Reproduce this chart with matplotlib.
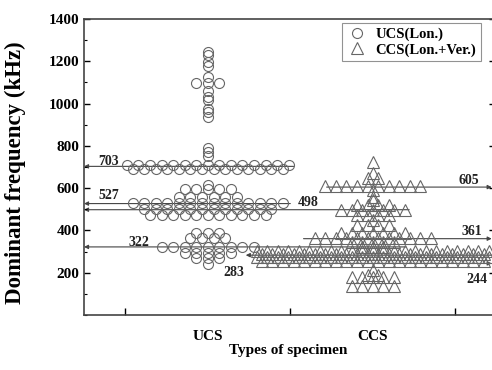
import matplotlib
matplotlib.use("Agg")
import matplotlib.pyplot as plt
from matplotlib.ticker import MultipleLocator
import numpy as np

# dominant frequency levels (kHz) and how many specimens sit on each level
ucs_levels = [1245, 1230, 1195, 1180, 1125, 1097, 1060, 1030, 1015, 975, 960, 935,
              790, 770, 750, 708, 692, 615, 595, 560, 530, 500, 472,
              388, 364, 322, 295, 268, 240]
ucs_counts = [1, 1, 1, 1, 1, 3, 1, 1, 1, 1, 1, 1,
              1, 1, 1, 15, 14, 1, 5, 6, 14, 12, 11,
              3, 4, 9, 5, 3, 1]

ccs_levels = [724, 672, 648, 610, 591, 558, 544, 520, 497, 473, 449, 426,
              388, 365, 345, 322, 305, 288, 272, 256, 213, 190, 180, 135]
ccs_counts = [1, 1, 2, 10, 1, 1, 1, 4, 7, 4, 1, 4,
              7, 12, 5, 3, 23, 22, 23, 22, 1, 2, 5, 5]

# reference lines
left_marks = [703, 527, 498, 322]
right_marks = [605, 361, 244]
mid_mark = 283

categories = ["UCS", "CCS"]


def swarm(center, levels, counts, step):
    xs, ys = [], []
    for v, n in zip(levels, counts):
        for i in range(n):
            xs.append(center + (i - (n - 1) / 2) * step)
            ys.append(v)
    return np.array(xs), np.array(ys)


fig = plt.figure(figsize=(4.92, 3.70), dpi=100)
ax = fig.add_axes([84 / 492, 55 / 370, 411 / 492, 296 / 370])

serif = "Liberation Serif"
mark_col = "#666666"

xu, yu = swarm(1, ucs_levels, ucs_counts, 0.070)
xc, yc = swarm(2, ccs_levels, ccs_counts, 0.064)

# reference lines (drawn under the markers)
arrow = dict(arrowstyle="-|>", color="#444444", lw=0.8, mutation_scale=6,
             shrinkA=0, shrinkB=0)
line_ends = {703: 1.52, 527: 1.50, 498: 2.22, 322: 2.20}
for v in left_marks:
    ax.annotate("", xy=(0.25, v), xytext=(line_ends[v], v), arrowprops=arrow, zorder=1)
ax.annotate("", xy=(1.23, mid_mark), xytext=(2.72, mid_mark), arrowprops=arrow, zorder=1)
right_starts = {605: 1.72, 361: 1.58, 244: 1.28}
for v in right_marks:
    ax.annotate("", xy=(2.72, v), xytext=(right_starts[v], v), arrowprops=arrow, zorder=1)

ax.plot(xu, yu, "o", ms=7.2, mfc="none", mec=mark_col, mew=0.8, zorder=3,
        label="UCS(Lon.)")
ax.plot(xc, yc, "^", ms=8, mfc="none", mec=mark_col, mew=0.8, zorder=3,
        label="CCS(Lon.+Ver.)")

# value labels
lab = dict(fontfamily=serif, fontweight="bold", fontsize=10, color="#222222")
ax.text(0.40, 728, "703", ha="center", va="center", **lab)
ax.text(0.40, 567, "527", ha="center", va="center", **lab)
ax.text(1.61, 530, "498", ha="center", va="center", **lab)
ax.text(0.58, 345, "322", ha="center", va="center", **lab)
ax.text(1.16, 203, "283", ha="center", va="center", **lab)
ax.text(2.58, 638, "605", ha="center", va="center", **lab)
ax.text(2.60, 393, "361", ha="center", va="center", **lab)
ax.text(2.63, 166, "244", ha="center", va="center", **lab)

ax.set_xlim(0.25, 2.74)
ax.set_ylim(0, 1400)
ax.yaxis.set_minor_locator(MultipleLocator(100))
ax.set_yticks([200, 400, 600, 800, 1000, 1200, 1400])
ax.set_xticks([0.5, 1.5, 2.5])
ax.set_xticklabels([])
ax.set_xticks([1, 2], minor=True)
ax.set_xticklabels(categories, minor=True)

ax.tick_params(axis="y", which="both", direction="in", right=True)
ax.tick_params(axis="y", which="major", length=4, width=1)
ax.tick_params(axis="y", which="minor", length=2.5, width=0.8)
ax.tick_params(axis="x", which="major", direction="in", length=5, width=1)
ax.tick_params(axis="x", which="minor", length=0, pad=11)

for t in ax.get_yticklabels():
    t.set_fontfamily(serif)
    t.set_fontweight("bold")
    t.set_fontsize(11)
for t in ax.get_xticklabels(minor=True):
    t.set_fontfamily(serif)
    t.set_fontweight("bold")
    t.set_fontsize(11)

for s in ax.spines.values():
    s.set_linewidth(1.2)
    s.set_color("#444444")

ax.set_ylabel("Dominant frequency (kHz)", fontfamily=serif, fontweight="bold",
              fontsize=16.5)
ax.yaxis.set_label_coords(-(84 - 26) / 411, (315 - 173) / 296)
ax.set_xlabel("Types of specimen", fontfamily=serif, fontweight="bold",
              fontsize=11)
ax.xaxis.set_label_coords((288 - 84) / 411, -(344 - 315) / 296)

leg = ax.legend(loc="upper left", bbox_to_anchor=((342 - 84) / 411, 1 - 4 / 296),
                borderaxespad=0,
                prop=dict(family=serif, weight="bold", size=10.5),
                frameon=True, fancybox=False, edgecolor="#777777",
                handletextpad=0.6, borderpad=0.3, labelspacing=0.15,
                handlelength=1.4)
leg.get_frame().set_linewidth(0.8)

fig.savefig("out.png", dpi=100)
